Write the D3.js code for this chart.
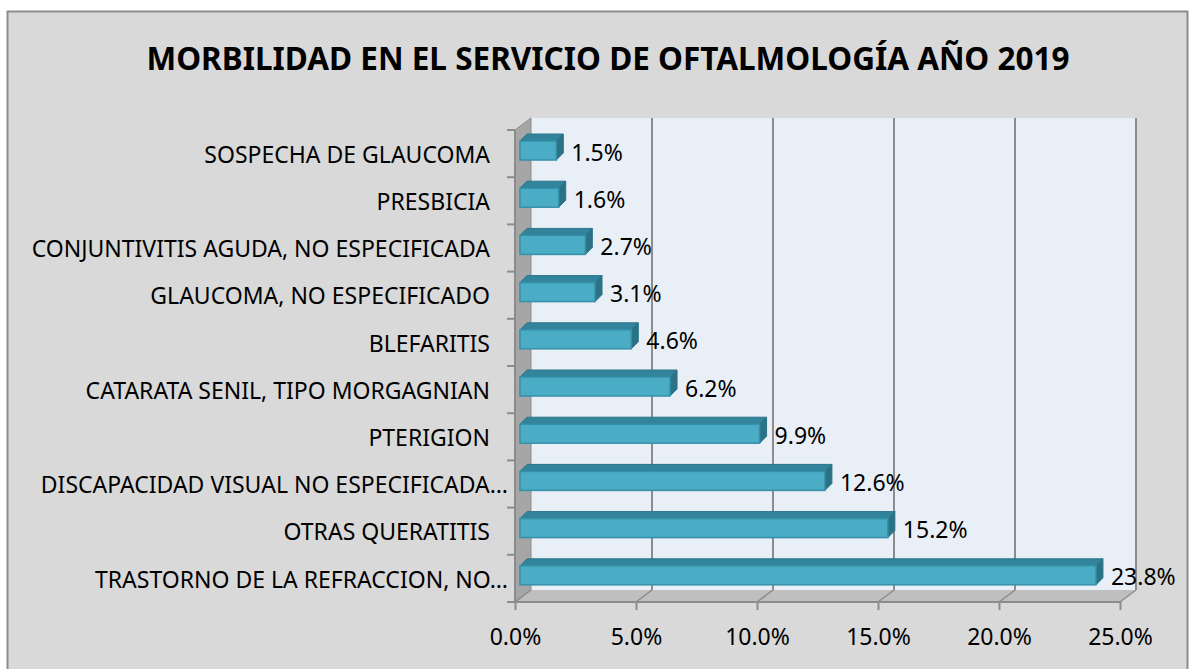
<!DOCTYPE html>
<html>
<head>
<meta charset="utf-8">
<script src="https://cdn.jsdelivr.net/npm/d3@7"></script>
<style>
  body { margin: 0; background: #fff; }
  svg text { font-family: "Noto Sans", "Open Sans", sans-serif; fill: #000; }
</style>
</head>
<body>
<div id="chart"></div>
<script>
// categories from bottom to top, as in the chart
var categories = [
  "TRASTORNO DE LA REFRACCION, NO\u2026",
  "OTRAS QUERATITIS",
  "DISCAPACIDAD VISUAL NO ESPECIFICADA\u2026",
  "PTERIGION",
  "CATARATA SENIL, TIPO MORGAGNIAN",
  "BLEFARITIS",
  "GLAUCOMA, NO ESPECIFICADO",
  "CONJUNTIVITIS AGUDA, NO ESPECIFICADA",
  "PRESBICIA",
  "SOSPECHA DE GLAUCOMA"
];
var values = [23.8, 15.2, 12.6, 9.9, 6.2, 4.6, 3.1, 2.7, 1.6, 1.5];
var ticks = [0, 5, 10, 15, 20, 25];
var title = "MORBILIDAD EN EL SERVICIO DE OFTALMOLOGÍA AÑO 2019";

var W = 1193, H = 669;
var depth = {dx: 16, dy: -12};   // 3d offset from front plane to back wall
var barOff = {dx: 5, dy: -3};    // bar front face relative to front plane
var barDepth = {dx: 7, dy: -7};
var fs = 23;

var svg = d3.select("#chart").append("svg")
  .attr("width", W).attr("height", H);

svg.append("rect")
  .attr("x", 0).attr("y", 0).attr("width", W).attr("height", H)
  .attr("fill", "#fff");
svg.append("rect")
  .attr("x", 7.5).attr("y", 11.5).attr("width", 1180).attr("height", 670)
  .attr("fill", "#d9d9d9").attr("stroke", "#8c8c8c").attr("stroke-width", 2);

svg.append("text")
  .attr("x", 608).attr("y", 70)
  .attr("text-anchor", "middle")
  .attr("font-size", 31.5).attr("font-weight", "bold")
  .text(title);

var x = d3.scaleLinear().domain([0, 25]).range([515, 1120]);
var y = d3.scaleBand().domain(d3.range(categories.length)).range([602, 130]);

var x0 = x(0), y0 = y.range()[0], yTop = y.range()[1];
var xMax = x(25);

function pts(a) { return a.map(function(p) { return p.join(","); }).join(" "); }

// back wall
svg.append("polygon")
  .attr("points", pts([[x0 + depth.dx, yTop + depth.dy], [xMax + depth.dx, yTop + depth.dy],
    [xMax + depth.dx, y0 + depth.dy], [x0 + depth.dx, y0 + depth.dy]]))
  .attr("fill", "#e9eff7");

// left wall
svg.append("polygon")
  .attr("points", pts([[x0, yTop], [x0 + depth.dx, yTop + depth.dy],
    [x0 + depth.dx, y0 + depth.dy], [x0, y0]]))
  .attr("fill", "#a6a6a6").attr("stroke", "#8c8c8c").attr("stroke-width", 1);

// floor
svg.append("polygon")
  .attr("points", pts([[x0, y0], [x0 + depth.dx, y0 + depth.dy],
    [xMax + depth.dx, y0 + depth.dy], [xMax, y0]]))
  .attr("fill", "#bfbfbf");

// gridlines on back wall and floor
ticks.forEach(function(t) {
  if (t > 0) {
    svg.append("line")
      .attr("x1", x(t) + depth.dx).attr("x2", x(t) + depth.dx)
      .attr("y1", yTop + depth.dy).attr("y2", y0 + depth.dy)
      .attr("stroke", "#8c8c8c").attr("stroke-width", 2);
  }
  svg.append("line")
    .attr("x1", x(t)).attr("y1", y0)
    .attr("x2", x(t) + depth.dx).attr("y2", y0 + depth.dy)
    .attr("stroke", "#8c8c8c").attr("stroke-width", 1.5);
});

// front edges of floor and left wall
svg.append("line")
  .attr("x1", x0).attr("x2", xMax).attr("y1", y0).attr("y2", y0)
  .attr("stroke", "#8c8c8c").attr("stroke-width", 2);
svg.append("line")
  .attr("x1", x0).attr("x2", x0).attr("y1", yTop).attr("y2", y0)
  .attr("stroke", "#8c8c8c").attr("stroke-width", 2);

// x axis
var xAxis = d3.axisBottom(x).tickValues(ticks)
  .tickFormat(function(d) { return d.toFixed(1) + "%"; })
  .tickSize(8).tickPadding(19);
var gx = svg.append("g").attr("transform", "translate(0," + y0 + ")").call(xAxis);
gx.select(".domain").remove();
gx.selectAll(".tick line").attr("stroke", "#8c8c8c").attr("stroke-width", 2);
gx.selectAll(".tick text").attr("font-size", fs).attr("font-family", "Noto Sans");

// y axis ticks on left wall (category boundaries)
var bounds = d3.range(categories.length + 1).map(function(i) { return y0 - i * y.step(); });
svg.selectAll(".ytick").data(bounds).enter().append("line")
  .attr("x1", x0 - 8).attr("x2", x0)
  .attr("y1", function(d) { return d; }).attr("y2", function(d) { return d; })
  .attr("stroke", "#8c8c8c").attr("stroke-width", 2);

// truncated labels run a little further to the right, as in the original
svg.selectAll(".ylab").data(categories).enter().append("text")
  .attr("x", function(d) { return d.slice(-1) === "\u2026" ? 508 : 490; })
  .attr("y", function(d, i) { return y(i) + y.bandwidth() / 2; })
  .attr("dy", "0.4em")
  .attr("text-anchor", "end")
  .attr("font-size", fs)
  .text(function(d) { return d; });

// bars
var barH = 19;
var bars = svg.selectAll(".bar").data(values).enter().append("g").attr("class", "bar");
bars.each(function(v, i) {
  var g = d3.select(this);
  var fx = x0 + barOff.dx, fy = y(i) + 11;
  var ex = fx + (x(v) - x0);
  // top face
  g.append("polygon")
    .attr("points", pts([[fx, fy], [fx + barDepth.dx, fy + barDepth.dy],
      [ex + barDepth.dx, fy + barDepth.dy], [ex, fy]]))
    .attr("fill", "#31849b").attr("stroke", "#2a7488").attr("stroke-width", 1);
  // right face
  g.append("polygon")
    .attr("points", pts([[ex, fy], [ex + barDepth.dx, fy + barDepth.dy],
      [ex + barDepth.dx, fy + barH + barDepth.dy], [ex, fy + barH]]))
    .attr("fill", "#2b7286").attr("stroke", "#2a7488").attr("stroke-width", 1);
  // front face
  g.append("rect")
    .attr("x", fx).attr("y", fy).attr("width", ex - fx).attr("height", barH)
    .attr("fill", "#4bacc6").attr("stroke", "#3590a8").attr("stroke-width", 1.5);
  g.append("text")
    .attr("x", ex + 15)
    .attr("y", y(i) + y.bandwidth() / 2)
    .attr("dy", "0.3em")
    .attr("font-size", fs)
    .text(v.toFixed(1) + "%");
});
</script>
</body>
</html>
